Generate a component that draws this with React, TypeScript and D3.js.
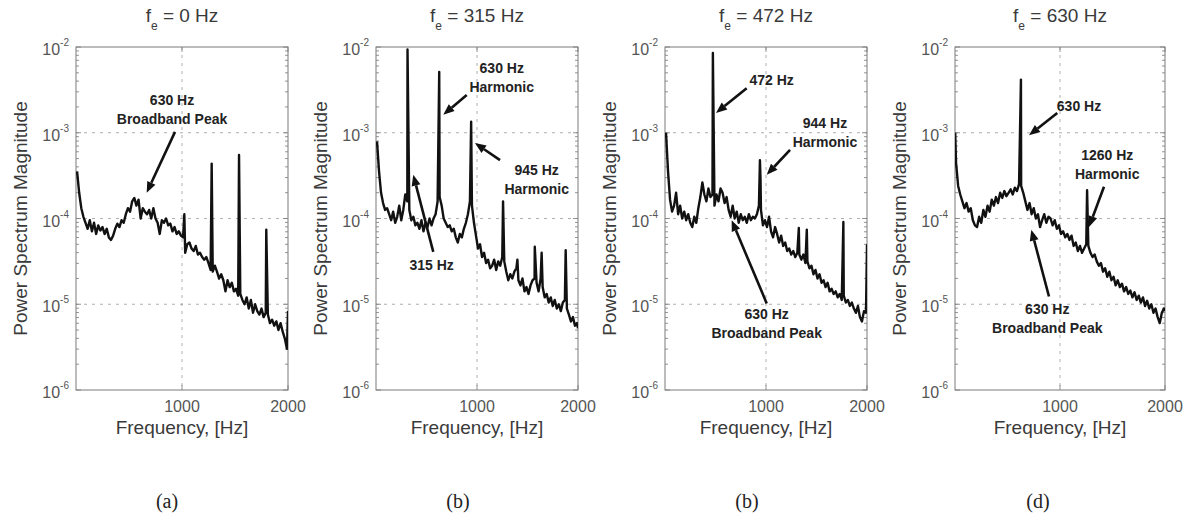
import * as d3 from 'd3';

// Sample grid of the spectra, Hz
const FREQ = d3.range(10, 2000, 20);

// log10 of the power spectrum magnitude on FREQ
const magA = [
  -3.45, -3.70, -3.88, -3.98, -4.05, -4.12, -4.02, -4.15, -4.05, -4.18,
  -4.08, -4.14, -4.10, -4.18, -4.12, -4.22, -4.25, -4.20, -4.12, -4.06,
  -4.10, -4.02, -4.05, -3.95, -3.88, -3.92, -3.80, -3.76, -3.85, -3.78,
  -4.00, -3.88, -3.92, -3.95, -3.90, -4.00, -3.88, -4.00, -4.05, -4.18,
  -4.02, -4.05, -4.00, -4.08, -4.06, -4.15, -4.10, -4.18, -4.15, -4.20,
  -4.22, -4.40, -4.30, -4.28, -4.35, -4.38, -4.32, -4.42, -4.40, -4.45,
  -4.48, -4.45, -4.52, -4.60, -4.62, -4.55, -4.62, -4.70, -4.65, -4.72,
  -4.85, -4.72, -4.80, -4.75, -4.85, -4.82, -4.90, -4.88, -4.95, -5.00,
  -4.92, -5.05, -4.95, -5.10, -5.00, -5.08, -5.12, -5.05, -5.15, -5.10,
  -5.12, -5.22, -5.18, -5.25, -5.20, -5.30, -5.22, -5.32, -5.40, -5.52,
];
const magB = [
  -3.10, -3.45, -3.70, -3.82, -3.90, -3.88, -3.95, -4.02, -3.92, -4.05,
  -3.98, -3.85, -4.02, -3.90, -3.72, -3.80, -3.90, -4.02, -3.98, -4.08,
  -4.05, -4.12, -4.02, -4.15, -4.05, -4.10, -4.00, -4.08, -4.00, -3.95,
  -3.80, -3.75, -3.85, -4.00, -4.05, -4.10, -4.08, -4.15, -4.12, -4.22,
  -4.28, -4.18, -4.22, -4.12, -4.05, -3.95, -3.80, -3.85, -4.05, -4.20,
  -4.35, -4.30, -4.45, -4.40, -4.52, -4.48, -4.58, -4.55, -4.48, -4.60,
  -4.50, -4.55, -4.45, -4.50, -4.62, -4.72, -4.65, -4.70, -4.62, -4.58,
  -4.72, -4.78, -4.70, -4.85, -4.80, -4.88, -4.78, -4.72, -4.70, -4.75,
  -4.85, -4.70, -4.80, -4.92, -4.88, -4.98, -4.92, -5.02, -4.95, -5.05,
  -5.00, -5.08, -4.98, -4.95, -5.05, -5.12, -5.20, -5.15, -5.25, -5.22,
];
const magC = [
  -3.00, -3.45, -3.78, -3.92, -3.85, -3.70, -3.95, -3.85, -4.00, -3.92,
  -4.02, -3.95, -4.05, -4.10, -3.98, -4.05, -3.88, -3.75, -3.58, -3.72,
  -3.80, -3.65, -3.75, -3.72, -3.85, -3.72, -3.80, -3.65, -3.70, -3.82,
  -3.75, -3.90, -3.98, -3.85, -4.00, -3.92, -4.05, -3.95, -4.02, -3.98,
  -4.05, -3.95, -4.02, -3.98, -4.00, -3.95, -3.85, -3.90, -4.08, -4.02,
  -4.10, -3.98, -4.15, -4.22, -4.10, -4.18, -4.28, -4.20, -4.32, -4.28,
  -4.38, -4.35, -4.42, -4.38, -4.45, -4.40, -4.42, -4.48, -4.42, -4.52,
  -4.50, -4.58, -4.55, -4.65, -4.60, -4.70, -4.65, -4.75, -4.72, -4.80,
  -4.75, -4.85, -4.82, -4.88, -4.85, -4.92, -4.88, -4.95, -4.90, -4.98,
  -4.95, -5.02, -4.98, -5.05, -5.10, -5.02, -5.15, -5.20, -5.08, -5.10,
];
const magD = [
  -3.35, -3.62, -3.72, -3.80, -3.88, -3.82, -3.92, -3.88, -4.02, -4.08,
  -4.10, -3.98, -4.05, -3.90, -3.98, -3.85, -3.92, -3.78, -3.85, -3.75,
  -3.82, -3.70, -3.76, -3.68, -3.74, -3.70, -3.66, -3.72, -3.64, -3.68,
  -3.60, -3.62, -3.70, -3.80, -3.90, -3.82, -3.95, -3.88, -4.00, -3.95,
  -4.10, -4.02, -3.95, -4.05, -3.98, -4.00, -4.08, -4.02, -4.12, -4.08,
  -4.18, -4.15, -4.22, -4.18, -4.25, -4.20, -4.32, -4.28, -4.38, -4.32,
  -4.40, -4.35, -4.30, -4.32, -4.40, -4.45, -4.42, -4.50, -4.55, -4.52,
  -4.62, -4.58, -4.68, -4.62, -4.72, -4.68, -4.78, -4.72, -4.80, -4.76,
  -4.85, -4.80, -4.88, -4.84, -4.92, -4.86, -4.95, -4.90, -4.98, -4.92,
  -5.02, -4.96, -5.05, -5.00, -5.10, -5.05, -5.15, -5.22, -5.10, -5.05,
];

// narrow tonal peaks and edge points: [Hz, log10 magnitude]
const peaksA: [number, number][] = [[1022, -3.95], [1280, -3.36], [1538, -3.26], [1795, -4.13], [2000, -5.08]];
const peaksB: [number, number][] = [
  [312, -2.03], [626, -2.29], [942, -2.87], [1258, -3.80], [1400, -4.48],
  [1572, -4.33], [1640, -4.40], [1878, -4.37], [2000, -5.28],
];
const peaksC: [number, number][] = [
  [474, -2.07], [940, -3.32], [946, -3.55], [1325, -4.11], [1404, -4.13], [1766, -4.04], [2000, -4.30],
];
const peaksD: [number, number][] = [[2, -3.0], [628, -2.38], [1258, -3.67], [2000, -5.08]];

const FE = ['0', '315', '472', '630'];
const CAPTIONS = ['(a)', '(b)', '(b)', '(d)'];
const Y_EXP = [-2, -3, -4, -5, -6];
const X_TICKS = [1000, 2000];

// callouts: text lines, first-line centre, arrow tail and tip, all in [Hz, log10 magnitude]
type Note = { lines: string[]; at: [number, number]; from: [number, number]; to: [number, number] };
const notesA: Note[] = [
  { lines: ['630 Hz', 'Broadband Peak'], at: [906, -2.62], from: [934, -2.99], to: [667, -3.7] },
];
const notesB: Note[] = [
  { lines: ['630 Hz', 'Harmonic'], at: [1245, -2.25], from: [898, -2.56], to: [666, -2.79] },
  { lines: ['945 Hz', 'Harmonic'], at: [1591, -3.43], from: [1228, -3.32], to: [980, -3.12] },
  { lines: ['315 Hz'], at: [551, -4.54], from: [567, -4.39], to: [369, -3.49] },
];
const notesC: Note[] = [
  { lines: ['472 Hz'], at: [1056, -2.38], from: [809, -2.48], to: [505, -2.77] },
  { lines: ['944 Hz', 'Harmonic'], at: [1584, -2.89], from: [1238, -3.2], to: [1007, -3.49] },
  { lines: ['630 Hz', 'Broadband Peak'], at: [1007, -5.11], from: [1007, -4.99], to: [660, -4.02] },
];
const notesD: Note[] = [
  { lines: ['630 Hz'], at: [1181, -2.69], from: [974, -2.77], to: [705, -3.03] },
  { lines: ['1260 Hz', 'Harmonic'], at: [1450, -3.26], from: [1419, -3.63], to: [1276, -4.1] },
  { lines: ['630 Hz', 'Broadband Peak'], at: [879, -5.06], from: [895, -4.91], to: [727, -4.13] },
];

const MAGS = [magA, magB, magC, magD];
const PEAKS = [peaksA, peaksB, peaksC, peaksD];
const NOTES = [notesA, notesB, notesC, notesD];

// layout
const FRAMES: [number, number][] = [[76, 288], [376, 578], [665, 867], [955, 1165]];
const CAPTION_X = [167, 458, 747, 1038];
const TOP = 47;
const BOTTOM = 390;
const SANS = '"Liberation Sans", Arial, Helvetica, sans-serif';
const AXIS = '#7a7a7a';
const LABEL = '#3a3a3a';

function Panel({ i }: { i: number }) {
  const [left, right] = FRAMES[i];
  const x = d3.scaleLinear().domain([0, 2000]).range([left, right]);
  const y = d3.scaleLog().domain([1e-6, 1e-2]).range([BOTTOM, TOP]);
  const ly = (e: number) => y(Math.pow(10, e));

  const pts: [number, number][] = FREQ.map((f, k) => [f, MAGS[i][k]] as [number, number])
    .concat(PEAKS[i])
    .sort((a, b) => a[0] - b[0]);
  const line = d3.line<[number, number]>().x((d) => x(d[0])).y((d) => ly(d[1]));

  const allTicks = y.ticks();
  const majors = allTicks.filter((t) => Math.abs(Math.log10(t) - Math.round(Math.log10(t))) < 1e-9);
  const cx = (left + right) / 2;
  const clipId = `clip-${i}`;

  return (
    <g>
      <defs>
        <clipPath id={clipId}>
          <rect x={left} y={TOP} width={right - left} height={BOTTOM - TOP} />
        </clipPath>
      </defs>
      {/* grid */}
      {majors.filter((t) => t < 1e-2 && t > 1e-6).map((t) => (
        <line key={`g${t}`} x1={left} x2={right} y1={y(t)} y2={y(t)} stroke="#9a9a9a" strokeWidth={0.8} strokeDasharray="3,5" />
      ))}
      <line x1={x(1000)} x2={x(1000)} y1={TOP} y2={BOTTOM} stroke="#9a9a9a" strokeWidth={0.8} strokeDasharray="3,5" />
      {/* ticks */}
      {allTicks.map((t) => {
        const len = majors.includes(t) ? 5 : 3;
        return (
          <g key={`t${t}`} stroke={AXIS} strokeWidth={0.8}>
            <line x1={left} x2={left + len} y1={y(t)} y2={y(t)} />
            <line x1={right} x2={right - len} y1={y(t)} y2={y(t)} />
          </g>
        );
      })}
      {X_TICKS.map((t) => (
        <g key={`xt${t}`} stroke={AXIS} strokeWidth={0.8}>
          <line x1={x(t)} x2={x(t)} y1={BOTTOM} y2={BOTTOM - 5} />
          <line x1={x(t)} x2={x(t)} y1={TOP} y2={TOP + 5} />
        </g>
      ))}
      <rect x={left} y={TOP} width={right - left} height={BOTTOM - TOP} fill="none" stroke={AXIS} strokeWidth={1} />
      {/* spectrum */}
      <path d={line(pts) ?? undefined} fill="none" stroke="#111" strokeWidth={2.4} strokeLinejoin="round" clipPath={`url(#${clipId})`} />
      {/* tick labels */}
      {Y_EXP.map((e) => (
        <text key={`yl${e}`} x={left - 7} y={ly(e) + 8} textAnchor="end" fontFamily={SANS} fontSize={16} fill="#555">
          10<tspan dy={-9} fontSize={10}>{e}</tspan>
        </text>
      ))}
      {X_TICKS.map((t) => (
        <text key={`xl${t}`} x={x(t)} y={412} textAnchor="middle" fontFamily={SANS} fontSize={16} fill="#555">
          {t}
        </text>
      ))}
      {/* axis titles */}
      <text x={cx} y={434} textAnchor="middle" fontFamily={SANS} fontSize={19} fill={LABEL}>
        Frequency, [Hz]
      </text>
      <text transform={`translate(${left - 56},${(TOP + BOTTOM) / 2}) rotate(-90)`} y={7} textAnchor="middle" fontFamily={SANS} fontSize={19} fill={LABEL}>
        Power Spectrum Magnitude
      </text>
      <text x={cx} y={22} textAnchor="middle" fontFamily={SANS} fontSize={19} fill={LABEL}>
        f<tspan dy={8} fontSize={12}>e</tspan><tspan dy={-8}>{` = ${FE[i]} Hz`}</tspan>
      </text>
      <text x={CAPTION_X[i]} y={508} textAnchor="middle" fontFamily={'"Liberation Serif", "Times New Roman", serif'} fontSize={20} fill="#222">
        {CAPTIONS[i]}
      </text>
      {/* callouts */}
      {NOTES[i].map((n, k) => {
        const x0 = x(n.from[0]);
        const y0 = ly(n.from[1]);
        const x1 = x(n.to[0]);
        const y1 = ly(n.to[1]);
        const ang = Math.atan2(y1 - y0, x1 - x0);
        const hl = 11;
        const hw = 4.5;
        const bx = x1 - hl * Math.cos(ang);
        const by = y1 - hl * Math.sin(ang);
        const head = [
          [x1, y1],
          [bx + hw * Math.sin(ang), by - hw * Math.cos(ang)],
          [bx - hw * Math.sin(ang), by + hw * Math.cos(ang)],
        ];
        return (
          <g key={`n${k}`}>
            <line x1={x0} y1={y0} x2={bx} y2={by} stroke="#111" strokeWidth={2.6} />
            <polygon points={head.map((p) => p.join(',')).join(' ')} fill="#111" />
            {n.lines.map((s, j) => (
              <text key={j} x={x(n.at[0])} y={ly(n.at[1]) + 5 + j * 19} textAnchor="middle" fontFamily={SANS} fontSize={14} fontWeight="bold" fill="#222">
                {s}
              </text>
            ))}
          </g>
        );
      })}
    </g>
  );
}

export default function App() {
  return (
    <svg width={1204} height={521} viewBox="0 0 1204 521" style={{ position: 'absolute', left: 0, top: 0, background: '#fff' }}>
      <rect width={1204} height={521} fill="#fff" />
      {FRAMES.map((_, i) => (
        <Panel key={i} i={i} />
      ))}
    </svg>
  );
}
